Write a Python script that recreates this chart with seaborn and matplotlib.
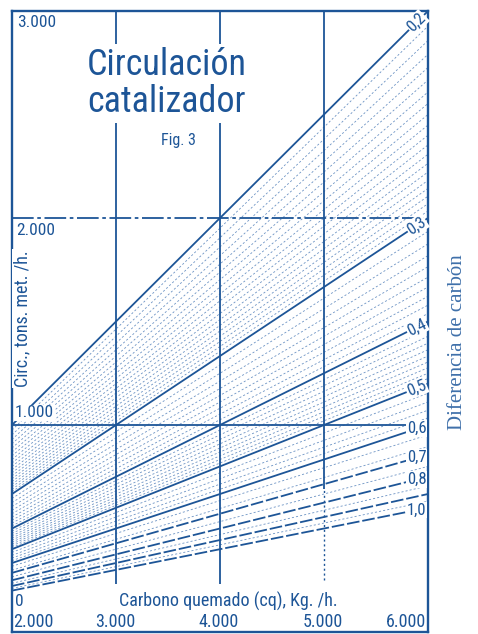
import matplotlib
matplotlib.use("Agg")
import matplotlib.pyplot as plt
import numpy as np
import pandas as pd
import seaborn as sns
from matplotlib import font_manager

sns.set_theme(style="white")
plt.rcParams["font.family"] = ["DejaVu Sans"]

# --- chart data -----------------------------------------------------------
# carbon difference (%) of the labelled lines and their labels
major_diff = [0.2, 0.3, 0.4, 0.5, 0.6, 0.7, 0.8, 0.9, 1.0]
major_labels = ["0,2", "0,3", "0,4", "0,5", "0,6", "0,7", "0,8", "", "1,0"]
# intermediate (hatched) lines
minor_diff = [0.205, 0.21, 0.215, 0.22, 0.225, 0.23, 0.235, 0.24, 0.245,
              0.25, 0.255, 0.26, 0.265, 0.27, 0.275, 0.28, 0.285, 0.29, 0.295,
              0.31, 0.32, 0.33, 0.34, 0.35, 0.36, 0.37, 0.38, 0.39,
              0.41, 0.42, 0.43, 0.44, 0.45, 0.46, 0.47, 0.48, 0.49,
              0.52, 0.54, 0.56, 0.58, 0.63, 0.67, 0.75, 0.85, 0.95]
# carbon burned range (kg/h)
cq_range = [2000, 6000]
# reference grid
grid_cq = [3000, 4000, 5000]
grid_circ = [1000, 2000]
y_ticks = ["3.000", "2.000", "1.000", "0"]
x_ticks = ["2.000", "3.000", "4.000", "5.000", "6.000"]


def circulation(cq, diff):
    # catalyst circulation (t/h) = carbon burned (kg/h) / (10 * carbon diff %)
    return cq / (10.0 * diff)


def lines_frame(diffs):
    rows = [(d, cq, circulation(cq, d)) for d in diffs for cq in cq_range]
    return pd.DataFrame(rows, columns=["diff", "cq", "circ"])


df_minor = lines_frame(minor_diff)
df_solid = lines_frame([d for d in major_diff if d < 0.65])
df_dashed = lines_frame([d for d in major_diff if d > 0.65])

# --- fonts ----------------------------------------------------------------
names = {f.name for f in font_manager.fontManager.ttflist}


def first_font(cands, default):
    for c in cands:
        if c in names:
            return c
    return default


narrow = first_font(["Roboto Condensed", "Archivo Narrow", "PT Sans Narrow",
                     "Liberation Sans Narrow"], "DejaVu Sans")
serif = first_font(["Liberation Serif", "Times New Roman"], "DejaVu Serif")
cond = dict(family=[narrow, "DejaVu Sans"])

ink = "#1d5597"
light = "#6c93c4"
white_box = dict(facecolor="white", edgecolor="none", pad=0.6)

fig = plt.figure(figsize=(4.78, 6.34), dpi=100)
fig.patch.set_facecolor("white")
ax = fig.add_axes([12 / 478, 2 / 634, 416 / 478, 621 / 634])
ax.set_xlim(2000, 6000)
ax.set_ylim(0, 3000)

# hatched intermediate lines
sns.lineplot(data=df_minor, x="cq", y="circ", units="diff", estimator=None,
             color=light, lw=0.6, ls=(0, (2.5, 2.5)), ax=ax, legend=False)
# labelled lines
sns.lineplot(data=df_solid, x="cq", y="circ", units="diff", estimator=None,
             color=ink, lw=1.3, ax=ax, legend=False)
sns.lineplot(data=df_dashed, x="cq", y="circ", units="diff", estimator=None,
             color=ink, lw=1.3, ls=(0, (7, 1.6)), ax=ax, legend=False)

# grid
ax.vlines(grid_cq[:2], 230, 3000, color=ink, lw=1.3)
ax.vlines(grid_cq[2], 690, 3000, color=ink, lw=1.3)
ax.vlines(grid_cq[2], 250, 690, color=ink, lw=1.0, ls=(0, (1.5, 2)))
ax.hlines(grid_circ[0], 2000, 6000, color=ink, lw=1.3)
ax.hlines(grid_circ[1], 2000, 6000, color=ink, lw=1.3, ls=(0, (12, 2, 2, 2)))

for s in ax.spines.values():
    s.set_color(ink)
    s.set_linewidth(1.7)
ax.set_xticks([])
ax.set_yticks([])
ax.set_xlabel("")
ax.set_ylabel("")

# line labels at the right edge, following the line slope
x_lab = 5890
for d, lab in zip(major_diff, major_labels):
    if not lab:
        continue
    y_lab = circulation(x_lab, d)
    p0 = ax.transData.transform((x_lab, y_lab))
    p1 = ax.transData.transform((x_lab + 100, circulation(x_lab + 100, d)))
    ang = np.degrees(np.arctan2(p1[1] - p0[1], p1[0] - p0[0])) if d < 0.55 else 0
    ax.text(x_lab, y_lab, lab, ha="center", va="center", rotation=ang,
            fontsize=12, color=ink, bbox=white_box, zorder=5, **cond)

# y tick labels inside the frame
ax.text(2048, 2980, y_ticks[0], ha="left", va="top", fontsize=12.5, color=ink,
        bbox=white_box, zorder=5, **cond)
ax.text(2040, 1975, y_ticks[1], ha="left", va="top", fontsize=12.5, color=ink,
        bbox=white_box, zorder=5, **cond)
ax.text(2030, 1022, y_ticks[2], ha="left", va="bottom", fontsize=12.5, color=ink,
        bbox=white_box, zorder=5, **cond)
ax.text(2030, 185, y_ticks[3], ha="left", va="top", fontsize=12.5, color=ink,
        zorder=5, **cond)

# x tick labels along the bottom
x_pos = [2015, 2990, 3985, 4985, 5985]
x_ha = ["left", "center", "center", "center", "right"]
for xp, lab, ha in zip(x_pos, x_ticks, x_ha):
    ax.text(xp, 22, lab, ha=ha, va="baseline", fontsize=13, color=ink,
            zorder=5, **cond)

# axis titles
ax.text(4077, 122, "Carbono quemado (cq), Kg. /h.", ha="center", va="baseline",
        fontsize=13, color=ink, zorder=5, **cond)
ax.text(2100, 1515, "Circ., tons. met. /h.", ha="center", va="center",
        rotation=90, fontsize=13, color=ink, bbox=white_box, zorder=5, **cond)

# chart title
ax.text(3490, 2650, "Circulación\ncatalizador", ha="center", va="center",
        fontsize=26, color=ink, linespacing=1.05,
        bbox=dict(facecolor="white", edgecolor="none", pad=2), zorder=6, **cond)
ax.text(3600, 2375, "Fig. 3", ha="center", va="center", fontsize=11.5,
        color=ink, zorder=6, **cond)

fig.text(458 / 478, 1 - 342 / 634, "Diferencia de carbón", rotation=90,
         ha="center", va="center", fontsize=15, color="#3f70aa", family=serif)

fig.savefig("out.png", dpi=100, facecolor="white")
